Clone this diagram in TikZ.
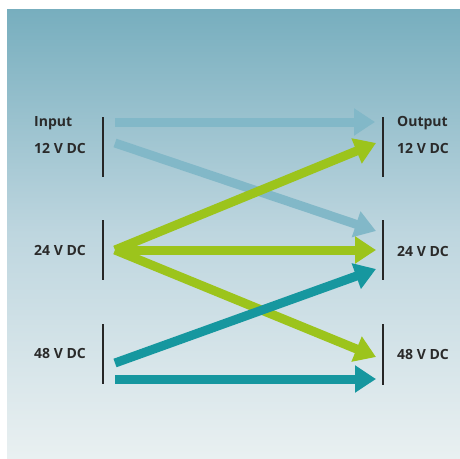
\documentclass[tikz,border=0pt]{standalone}
\usepackage{fontspec}
\setmainfont{Open Sans}
\usetikzlibrary{arrows.meta}
\definecolor{bgtop}{HTML}{77AEBE}
\definecolor{bgmid}{HTML}{BED6DF}
\definecolor{bgbot}{HTML}{E9F0F1}
\definecolor{lblue}{HTML}{82B8C8}
\definecolor{lgreen}{HTML}{9CC41C}
\definecolor{teal}{HTML}{16979F}
\definecolor{txt}{HTML}{2A2A2A}
\tikzset{
  lbl/.style={font=\bfseries\fontsize{14}{16}\selectfont, text=txt, inner sep=0pt},
  bar/.style={line width=1.8pt, draw=black!85},
  flow/.style={line width=9pt, -{Triangle[length=21pt,width=26pt]}},
}
\begin{document}
\begin{tikzpicture}[x=1pt,y=-1pt]
\useasboundingbox (0,0) rectangle (460,458);
\fill[white] (0,0) rectangle (460,458);
\shade[top color=bgtop, bottom color=bgbot, middle color=bgmid] (7,9) rectangle (460,458);
% bars
\coordinate (l1a) at (103,117); \coordinate (l1b) at (103,177);
\coordinate (l2a) at (103,220); \coordinate (l2b) at (103,280);
\coordinate (l3a) at (103,324); \coordinate (l3b) at (103,384);
\coordinate (r1a) at (383,117); \coordinate (r1b) at (383,177);
\coordinate (r2a) at (383,220); \coordinate (r2b) at (383,280);
\coordinate (r3a) at (383,324); \coordinate (r3b) at (383,385);
\draw[bar] (l1a) -- (l1b);
\draw[bar] (l2a) -- (l2b);
\draw[bar] (l3a) -- (l3b);
\draw[bar] (r1a) -- (r1b);
\draw[bar] (r2a) -- (r2b);
\draw[bar] (r3a) -- (r3b);
% labels
\node[lbl, anchor=west] (inp) at (34,123) {Input};
\node[lbl, anchor=west] (in12) at (34,148) {12 V DC};
\node[lbl, anchor=west] (in24) at (34,250) {24 V DC};
\node[lbl, anchor=west] (in48) at (34,353) {48 V DC};
\node[lbl, anchor=west] (outp) at (397,123) {Output};
\node[lbl, anchor=west] (out12) at (397,148) {12 V DC};
\node[lbl, anchor=west] (out24) at (397,251) {24 V DC};
\node[lbl, anchor=west] (out48) at (397,354) {48 V DC};
% arrow endpoints
\coordinate (s12a) at (115,122); \coordinate (e12a) at (375,122);
\coordinate (s12b) at (115,143); \coordinate (e12b) at (376,231);
\coordinate (s24) at (115,250);
\coordinate (e24a) at (376,143); \coordinate (e24b) at (376,250); \coordinate (e24c) at (376,357);
\coordinate (s48a) at (115,363); \coordinate (e48a) at (376,269);
\coordinate (s48b) at (115,379); \coordinate (e48b) at (376,379);
\draw[flow, lblue] (s12a) -- (e12a);
\draw[flow, lblue] (s12b) -- (e12b);
\draw[flow, lgreen] (s24) -- (e24a);
\draw[flow, lgreen] (s24) -- (e24b);
\draw[flow, lgreen] (s24) -- (e24c);
\draw[flow, teal] (s48a) -- (e48a);
\draw[flow, teal] (s48b) -- (e48b);
\end{tikzpicture}
\end{document}
